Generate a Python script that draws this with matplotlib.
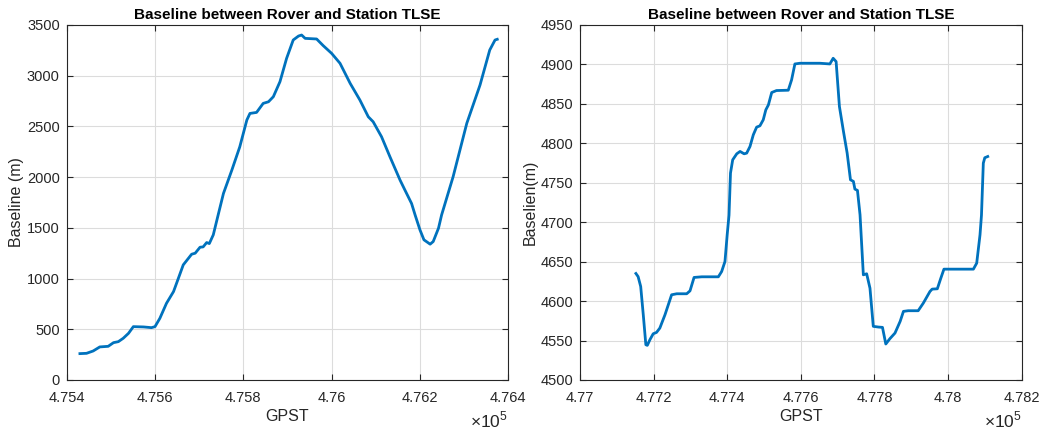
import matplotlib.pyplot as plt
from matplotlib.ticker import FuncFormatter

plt.rcParams['font.family'] = ['Liberation Sans', 'DejaVu Sans']
plt.rcParams['mathtext.fontset'] = 'custom'
plt.rcParams['mathtext.rm'] = 'Liberation Sans'

# left panel: GPST (s) and baseline (m)
gpst1 = [475430, 475445, 475460, 475475, 475494, 475506, 475517, 475528, 475540, 475551,
         475574, 475592, 475600, 475611, 475626, 475642, 475653, 475664, 475683, 475691,
         475702, 475709, 475717, 475723, 475732, 475743, 475755, 475774, 475792, 475808,
         475815, 475830, 475845, 475857, 475868, 475883, 475898, 475913, 475925, 475932,
         475940, 475966, 475981, 476000, 476019, 476042, 476064, 476083, 476094, 476113,
         476132, 476155, 476166, 476181, 476189, 476200, 476209, 476223, 476230, 476242,
         476249, 476275, 476306, 476336, 476358, 476370, 476375]
base1 = [260, 263, 286, 326, 332, 368, 378, 411, 460, 526,
         523, 516, 526, 608, 756, 872, 1003, 1135, 1240, 1250,
         1309, 1312, 1355, 1345, 1431, 1627, 1839, 2069, 2299, 2563,
         2628, 2638, 2727, 2743, 2793, 2941, 3171, 3352, 3391, 3401,
         3368, 3362, 3296, 3220, 3122, 2924, 2760, 2595, 2546, 2398,
         2201, 1970, 1872, 1740, 1627, 1480, 1382, 1339, 1365, 1497,
         1627, 2003, 2530, 2908, 3253, 3352, 3359]

# right panel
gpst2 = [477152, 477158, 477165, 477172, 477179, 477183, 477190, 477199, 477208, 477217,
         477231, 477249, 477263, 477290, 477299, 477310, 477331, 477376, 477385, 477394,
         477400, 477405, 477409, 477415, 477426, 477435, 477446, 477453, 477462, 477471,
         477480, 477489, 477498, 477505, 477512, 477521, 477534, 477566, 477575, 477584,
         477598, 477652, 477679, 477688, 477696, 477705, 477716, 477726, 477735, 477743,
         477747, 477754, 477761, 477765, 477770, 477779, 477788, 477797, 477811, 477822,
         477831, 477842, 477856, 477870, 477879, 477892, 477919, 477933, 477951, 477957,
         477971, 477980, 477989, 478005, 478069, 478078, 478087, 478091, 478096, 478100,
         478108]
base2 = [4635.0, 4631.0, 4618.5, 4582.7, 4544.7, 4543.9, 4551.0, 4558.6, 4560.3, 4565.8,
         4582.7, 4608.0, 4609.3, 4609.3, 4613.0, 4630.0, 4630.8, 4630.8, 4637.5, 4650.2,
         4684.0, 4709.0, 4762.3, 4779.1, 4786.7, 4789.7, 4786.7, 4787.6, 4796.0, 4810.8,
         4820.5, 4822.2, 4829.8, 4842.4, 4848.7, 4864.4, 4866.9, 4867.3, 4880.4, 4900.6,
         4901.5, 4901.5, 4900.6, 4907.8, 4903.6, 4846.6, 4815.0, 4787.6, 4753.8, 4751.7,
         4742.0, 4740.3, 4709.4, 4675.5, 4633.3, 4634.6, 4616.4, 4568.0, 4567.1, 4566.7,
         4545.6, 4552.3, 4559.5, 4574.3, 4587.0, 4587.8, 4587.8, 4597.5, 4612.2, 4615.2,
         4615.6, 4628.3, 4640.5, 4640.5, 4640.5, 4648.1, 4684.0, 4709.0, 4774.9, 4781.7,
         4783.3]

blue = '#0072BD'
dark = '#262626'

fig = plt.figure(figsize=(10.45, 4.3), dpi=100)
ax1 = fig.add_axes([0.0638, 0.1163, 0.4226, 0.8256])
ax2 = fig.add_axes([0.5550, 0.1163, 0.4226, 0.8256])

panels = [
    (ax1, gpst1, base1, (475400, 476400), (0, 3500), 'Baseline (m)'),
    (ax2, gpst2, base2, (477000, 478200), (4500, 4950), 'Baselien(m)'),
]

for ax, x, y, xl, yl, ylab in panels:
    ax.plot(x, y, color=blue, lw=2)
    ax.set_xlim(xl)
    ax.set_ylim(yl)
    ax.set_xticks(range(xl[0], xl[1] + 1, 200))
    ax.xaxis.set_major_formatter(FuncFormatter(lambda v, p: '%g' % round(v / 1e5, 4)))
    ax.grid(True, color='#dcdcdc', lw=0.8)
    ax.set_axisbelow(True)
    ax.tick_params(direction='in', top=True, right=True, length=4,
                   labelsize=10.5, colors=dark)
    ax.tick_params(axis='x', pad=8)
    ax.tick_params(axis='y', pad=5)
    for s in ax.spines.values():
        s.set_color(dark)
        s.set_linewidth(0.8)
    ax.set_title('Baseline between Rover and Station TLSE', fontsize=11,
                 fontweight='bold', pad=4)
    ax.set_xlabel('GPST', fontsize=11.5, color=dark, labelpad=3)
    ax.set_ylabel(ylab, fontsize=11.5, color=dark, labelpad=2)
    ax.text(1.0, -0.083, r'$\times10^{5}$', transform=ax.transAxes, ha='right',
            va='top', fontsize=12.5, color=dark)

fig.savefig('out.png', dpi=100)
